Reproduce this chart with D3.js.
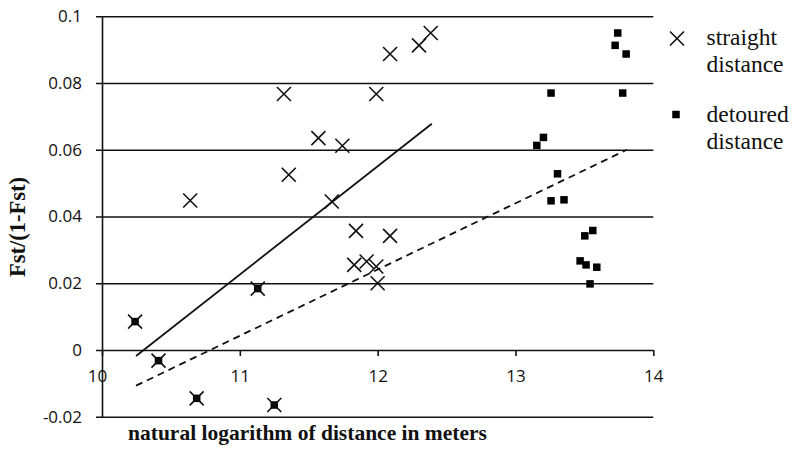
<!DOCTYPE html>
<html><head><meta charset="utf-8">
<script src="https://cdn.jsdelivr.net/npm/d3@7"></script>
<style>body{margin:0;background:#fff}svg{display:block}
.serif{font-family:"Liberation Serif","Times New Roman",serif}
.sans{font-family:"Open Sans",sans-serif}</style>
</head><body>
<svg id="chart" width="800" height="467"></svg>
<script>
// ---- data ----
const straightX = [10.64, 11.355, 11.57, 11.744, 11.667, 11.843, 12.09, 11.83, 11.92, 11.99, 12.0, 11.32, 11.99, 12.09, 12.30, 12.385, 10.24, 10.41, 10.687, 11.25, 11.13];
const detouredX = [13.742, 13.723, 13.803, 13.258, 13.778, 13.203, 13.155, 13.305, 13.258, 13.352, 13.561, 13.503, 13.469, 13.512, 13.59, 13.541, 10.24, 10.41, 10.687, 11.25, 11.13];
const straightY = [0.0448, 0.0525, 0.0635, 0.0612, 0.0445, 0.0357, 0.0342, 0.0255, 0.0265, 0.025, 0.020, 0.0767, 0.0767, 0.0887, 0.0913, 0.095, 0.0085, -0.0032, -0.0145, -0.0165, 0.0184];
const detouredY = [0.095, 0.0913, 0.0887, 0.077, 0.077, 0.0637, 0.0613, 0.0528, 0.0447, 0.045, 0.0358, 0.0342, 0.0267, 0.0255, 0.0248, 0.0198, 0.0085, -0.0032, -0.0145, -0.0165, 0.0184];
const straightFitX = [10.247, 12.393];
const straightFitY = [-0.0018, 0.0678];
const detouredFitX = [10.247, 13.808];
const detouredFitY = [-0.0107, 0.060];
const xTicks = [10, 11, 12, 13, 14];
const yTicks = [-0.02, 0, 0.02, 0.04, 0.06, 0.08, 0.1];
const yTickLabels = ["-0.02", "0", "0.02", "0.04", "0.06", "0.08", "0.1"];
const legendLabels = [["straight", "distance"], ["detoured", "distance"]];
const xTitle = "natural logarithm of distance in meters";
const yTitle = "Fst/(1-Fst)";

// ---- drawing ----
const svg = d3.select("#chart");
const x = d3.scaleLinear().domain([10, 14]).range([102, 653.3]);
const y = d3.scaleLinear().domain([-0.02, 0.1]).range([416.7, 16.3]);
const ink = "#111";

// horizontal gridlines with left ticks (y axis)
const yAxis = d3.axisLeft(y).tickValues(yTicks)
  .tickFormat((d, i) => yTickLabels[i])
  .tickSize(-(653.3 - 102)).tickSizeOuter(0).tickPadding(14);
const gy = svg.append("g").attr("transform", "translate(102,0)").call(yAxis);
gy.attr("font-family", null).attr("font-size", null);
gy.select(".domain").attr("stroke", ink).attr("stroke-width", 1.6);
gy.selectAll(".tick line").attr("stroke", ink).attr("stroke-width", 1.6).attr("x1", -6);
gy.selectAll(".tick text").attr("class", "sans").style("font-size", "17px").attr("fill", ink).attr("x", -20);

// x axis at y = 0
const xAxis = d3.axisBottom(x).tickValues(xTicks).tickFormat(d3.format("d")).tickSize(6).tickSizeOuter(0).tickPadding(14);
const gx = svg.append("g").attr("transform", `translate(0,${y(0)})`).call(xAxis);
gx.attr("font-family", null).attr("font-size", null);
gx.select(".domain").remove();
gx.selectAll(".tick line").attr("stroke", ink).attr("stroke-width", 1.6);
gx.selectAll(".tick text").attr("class", "sans").style("font-size", "17px").attr("fill", ink);
gx.selectAll(".tick").filter(d => d === 10).select("text").attr("dx", -5);

// regression lines
const line = d3.line().x(d => x(d[0])).y(d => y(d[1]));
svg.append("path").datum(straightFitX.map((v, i) => [v, straightFitY[i]]))
  .attr("d", line).attr("stroke", ink).attr("stroke-width", 1.8).attr("fill", "none");
svg.append("path").datum(detouredFitX.map((v, i) => [v, detouredFitY[i]]))
  .attr("d", line).attr("stroke", ink).attr("stroke-width", 1.8).attr("fill", "none")
  .attr("stroke-dasharray", "7,5");

// detoured squares
const sq = 7.5;
svg.append("g").selectAll("rect").data(detouredX.map((v, i) => [v, detouredY[i]])).join("rect")
  .attr("x", d => x(d[0]) - sq / 2).attr("y", d => y(d[1]) - sq / 2)
  .attr("width", sq).attr("height", sq).attr("fill", "#000");

// straight crosses
const h = 7;
const cross = (cx, cy) => `M${cx - h},${cy - h}L${cx + h},${cy + h}M${cx - h},${cy + h}L${cx + h},${cy - h}`;
svg.append("g").selectAll("path").data(straightX.map((v, i) => [v, straightY[i]])).join("path")
  .attr("d", d => cross(x(d[0]), y(d[1]))).attr("stroke", ink).attr("stroke-width", 1.6).attr("fill", "none");

// legend
const lg = svg.append("g");
lg.append("path").attr("d", cross(677, 38.5)).attr("stroke", ink).attr("stroke-width", 1.6);
lg.append("rect").attr("x", 676 - sq / 2).attr("y", 114.5 - sq / 2).attr("width", sq).attr("height", sq).attr("fill", "#000");
const legBase = [[45, 72], [122, 148.5]];
legendLabels.forEach((lines, i) => {
  lines.forEach((t, j) => {
    lg.append("text").attr("x", 706.5).attr("y", legBase[i][j]).text(t)
      .style("font-family", "'Liberation Serif', 'DejaVu Serif', serif")
      .style("font-size", "23.5px").style("font-weight", "normal").attr("fill", ink);
  });
});

// axis titles
svg.append("text").attr("class", "serif").attr("x", 307.5).attr("y", 440).attr("text-anchor", "middle").text(xTitle)
  .style("font-weight", "bold").style("font-size", "21.5px").attr("fill", ink);
svg.append("text").attr("class", "serif").attr("transform", "translate(25,227) rotate(-90)").attr("text-anchor", "middle").text(yTitle)
  .style("font-weight", "bold").style("font-size", "22.5px").attr("fill", ink);
</script>
</body></html>
